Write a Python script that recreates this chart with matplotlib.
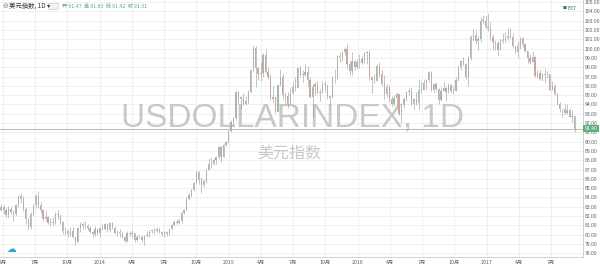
import matplotlib
matplotlib.use("Agg")
import matplotlib.pyplot as plt
import matplotlib.dates as mdates
import matplotlib.transforms as mtransforms
from matplotlib.patches import Rectangle
import numpy as np
import pandas as pd

# weekly candles (open = previous close)
first_week = "2013-03-25"
first_open = 82.6

close = [
    # 2013
    83.0, 82.6, 82.1, 82.8, 82.4, 82.2, 83.2, 84.2, 83.8, 82.8,
    81.7, 80.8, 82.2, 83.2, 84.2, 83.2, 82.7, 81.7, 81.9, 81.3,
    81.3, 81.4, 82.2, 82.1, 81.4, 80.4, 80.4, 80.1, 80.4, 79.8,
    79.2, 80.7, 81.2, 80.9, 80.9, 80.7, 80.3, 80.1, 80.6, 80.2,
    80.7,
    # 2014
    80.6, 81.2, 80.5, 81.3, 80.7, 80.2, 80.2, 80.2, 79.7, 79.3,
    80.2, 80.1, 80.2, 79.4, 79.8, 79.8, 79.4, 79.9, 80.0, 80.4,
    80.4, 80.4, 80.6, 80.3, 80.1, 80.3, 80.1, 80.6, 81.0, 81.4,
    81.3, 81.5, 82.3, 82.7, 83.8, 84.3, 84.8, 85.6, 86.7, 85.9,
    85.3, 85.8, 87.0, 87.6, 87.6, 88.0, 88.4, 89.4, 88.3, 89.6,
    90.0, 91.1,
    # 2015
    92.1, 92.5, 95.3, 94.6, 94.8, 94.1, 94.4, 95.3, 97.7, 100.1,
    97.9, 97.3, 97.4, 99.3, 97.5, 96.9, 94.6, 94.8, 93.2, 96.1,
    96.9, 95.0, 94.9, 94.1, 95.2, 95.9, 95.8, 97.9, 97.2, 97.2,
    97.5, 96.6, 94.8, 95.9, 96.2, 95.3, 95.2, 96.1, 96.1, 94.9,
    94.7, 96.9, 96.9, 99.2, 99.1, 99.6, 100.0, 98.3, 97.6, 98.7,
    98.0, 98.6,
    # 2016
    98.5, 98.9, 99.5, 99.6, 97.0, 96.6, 96.5, 98.1, 97.3, 96.2,
    95.1, 95.9, 94.6, 94.1, 94.7, 95.1, 93.0, 93.9, 94.6, 95.3,
    95.5, 94.0, 94.6, 94.2, 95.6, 95.6, 96.3, 96.6, 97.5, 95.6,
    96.2, 95.7, 94.5, 95.5, 95.8, 95.3, 96.1, 95.4, 95.5, 96.6,
    98.0, 98.7, 98.4, 97.0, 99.0, 101.2, 101.5, 100.8, 101.0, 103.0,
    103.0, 102.3,
    # 2017
    102.2, 101.2, 100.7, 100.6, 99.9, 100.8, 100.9, 101.1, 101.4, 101.3,
    100.3, 99.6, 100.3, 101.1, 100.5, 99.8, 99.0, 98.6, 99.1, 97.1,
    97.4, 96.7, 97.3, 97.2, 97.3, 95.6, 96.0, 95.1, 94.0, 93.5,
    93.5, 93.1, 93.4, 92.7, 92.8, 91.4,
]

high = [
    # 2013
    83.3, 83.2, 82.9, 83.1, 83.0, 82.6, 83.3, 84.3, 84.5, 84.2,
    83.0, 81.8, 82.4, 83.3, 84.4, 84.7, 83.5, 82.8, 82.6, 82.0,
    81.8, 81.9, 82.4, 82.6, 82.1, 81.5, 80.8, 80.6, 80.8, 80.8,
    79.8, 80.8, 81.4, 81.4, 81.5, 81.2, 80.9, 80.4, 80.9, 80.6,
    80.8,
    # 2014
    81.1, 81.3, 81.3, 81.4, 81.4, 80.9, 80.5, 80.6, 80.3, 79.9,
    80.4, 80.4, 80.5, 80.2, 80.0, 80.0, 80.0, 80.0, 80.4, 80.5,
    80.6, 80.7, 80.8, 80.7, 80.4, 80.4, 80.4, 80.7, 81.1, 81.6,
    81.7, 81.7, 82.4, 82.8, 84.0, 84.5, 84.9, 85.7, 86.8, 86.8,
    86.2, 86.0, 87.1, 88.2, 88.3, 88.2, 88.5, 89.6, 89.5, 89.7,
    90.1, 91.3,
    # 2015
    92.3, 92.7, 95.5, 95.4, 94.9, 95.2, 94.9, 95.6, 97.8, 100.4,
    100.3, 98.0, 98.6, 99.5, 100.0, 98.0, 97.3, 96.0, 94.8, 96.2,
    97.8, 97.4, 95.3, 95.3, 95.8, 96.4, 96.9, 98.0, 98.1, 97.7,
    98.4, 98.1, 96.9, 96.2, 96.4, 96.5, 95.7, 96.5, 96.5, 96.0,
    95.0, 97.1, 97.8, 99.3, 99.6, 99.8, 100.2, 100.5, 98.7, 99.6,
    98.8, 98.9,
    # 2016
    99.4, 99.2, 99.6, 99.8, 99.9, 97.1, 97.3, 98.3, 98.6, 97.7,
    97.2, 96.2, 96.1, 94.9, 95.0, 95.3, 95.0, 94.2, 94.8, 95.5,
    95.8, 95.9, 94.7, 95.3, 96.7, 96.5, 96.7, 96.7, 97.6, 97.6,
    96.3, 96.4, 95.8, 95.9, 96.4, 95.9, 96.3, 96.2, 96.0, 97.0,
    98.1, 98.8, 99.1, 98.5, 99.2, 101.5, 102.1, 102.0, 101.4, 103.4,
    103.6, 103.5,
    # 2017
    103.8, 102.9, 101.6, 100.9, 100.8, 101.0, 101.7, 101.8, 102.2, 102.2,
    101.7, 100.3, 100.8, 101.3, 101.2, 100.6, 99.6, 99.4, 99.7, 99.2,
    97.7, 97.7, 97.4, 97.9, 97.6, 97.3, 96.5, 96.2, 95.2, 94.3,
    93.6, 94.0, 94.0, 93.6, 93.4, 92.6,
]

low = [
    # 2013
    82.5, 82.2, 81.9, 81.8, 82.2, 81.5, 82.0, 83.0, 83.4, 82.5,
    81.2, 80.5, 80.6, 82.1, 82.9, 82.9, 82.3, 81.5, 81.5, 81.1,
    80.9, 81.0, 81.2, 81.7, 81.2, 80.1, 80.0, 79.8, 79.9, 79.6,
    78.9, 79.2, 80.3, 80.6, 80.6, 80.5, 80.2, 79.8, 79.9, 80.0,
    79.8,
    # 2014
    80.5, 80.5, 80.3, 80.3, 80.6, 80.1, 79.9, 79.8, 79.6, 79.2,
    79.2, 79.9, 79.8, 79.2, 79.3, 79.6, 79.2, 78.9, 79.7, 79.8,
    80.2, 80.1, 80.3, 80.2, 79.9, 79.8, 79.9, 80.0, 80.5, 80.9,
    81.2, 81.2, 81.3, 82.2, 82.6, 83.7, 84.1, 84.7, 85.6, 85.4,
    84.5, 85.1, 85.6, 86.9, 87.2, 87.5, 87.6, 88.1, 87.8, 88.3,
    89.5, 89.9,
    # 2015
    91.0, 91.7, 92.3, 94.1, 93.5, 93.9, 93.9, 94.1, 95.2, 97.5,
    95.9, 96.6, 96.5, 97.0, 97.4, 96.7, 94.5, 94.3, 93.1, 93.4,
    96.0, 94.6, 94.2, 93.6, 94.0, 95.1, 95.4, 95.9, 96.9, 96.4,
    97.1, 96.0, 94.7, 92.6, 95.0, 95.1, 94.4, 95.3, 95.5, 94.6,
    93.8, 94.9, 96.3, 96.7, 98.6, 98.7, 99.3, 97.8, 97.2, 97.2,
    97.7, 97.8,
    # 2016
    97.9, 98.3, 98.5, 98.4, 96.6, 95.2, 96.3, 96.6, 97.0, 96.0,
    94.6, 94.8, 94.3, 93.8, 93.8, 93.8, 92.9, 92.0, 93.6, 94.4,
    95.0, 93.9, 93.4, 93.9, 93.5, 95.2, 95.6, 95.7, 96.4, 95.4,
    95.2, 95.5, 94.1, 94.4, 95.4, 94.4, 95.2, 95.2, 95.1, 95.6,
    96.5, 97.7, 98.2, 96.7, 96.0, 98.8, 100.8, 100.5, 99.9, 100.7,
    102.7, 102.1,
    # 2017
    101.9, 100.9, 99.9, 99.9, 99.2, 99.9, 100.6, 100.7, 100.9, 101.1,
    100.1, 99.5, 99.0, 100.0, 100.2, 99.6, 98.5, 98.4, 98.6, 96.9,
    96.8, 96.6, 96.5, 96.3, 96.8, 95.5, 95.6, 95.0, 93.9, 93.2,
    92.6, 93.0, 93.0, 92.6, 92.1, 91.0,
]

x_tick_dates = [
    "2013-04-01", "2013-07-01", "2013-10-01", "2014-01-01",
    "2014-04-01", "2014-07-01", "2014-10-01", "2015-01-01",
    "2015-04-01", "2015-07-01", "2015-10-01", "2016-01-01",
    "2016-04-01", "2016-07-01", "2016-10-01", "2017-01-01",
    "2017-04-01", "2017-07-01",
]
x_tick_labels = [
    "4月", "7月", "10月", "2014", "4月", "7月", "10月", "2015",
    "4月", "7月", "10月", "2016", "4月", "7月", "10月", "2017",
    "4月", "7月",
]
y_ticks = list(range(78, 106))

plt.rcParams["font.family"] = ["Noto Sans CJK SC", "DejaVu Sans"]

up_color = "#a3b9aa"
down_color = "#cba7a2"
wick_color = "#959595"
grid_color = "#eeeeee"
label_color = "#606060"

close = np.array(close)
high = np.array(high)
low = np.array(low)
opens = np.concatenate([[first_open], close[:-1]])

dates = pd.date_range(first_week, periods=len(close), freq="W-MON") + pd.Timedelta(days=2)
x = mdates.date2num(dates.to_pydatetime())

fig = plt.figure(figsize=(6, 2.68), dpi=100)
ax = fig.add_axes([0, 11 / 268, 583 / 600, 257 / 268])

# grid
for d in x_tick_dates:
    ax.axvline(mdates.datestr2num(d), color=grid_color, lw=0.6, zorder=0)
for v in y_ticks:
    ax.axhline(v, color=grid_color, lw=0.6, zorder=0)

# watermark
ax.text(0.502, 0.541, "USDOLLARINDEX, 1D", transform=ax.transAxes,
        ha="center", va="center", fontsize=24, color="#c8c8c8",
        family=["Liberation Sans", "DejaVu Sans"], zorder=1)
ax.text(0.497, 0.405, "美元指数", transform=ax.transAxes,
        ha="center", va="center", fontsize=11.5, color="#c8c8c8", zorder=1)

# candles
ups = close >= opens
colors = np.where(ups, up_color, down_color)
ax.vlines(x, np.minimum(low, np.minimum(opens, close)),
          np.maximum(high, np.maximum(opens, close)),
          color=wick_color, lw=0.4, zorder=2)
body_lo = np.minimum(opens, close)
body_h = np.maximum(np.abs(close - opens), 0.05)
ax.bar(x, body_h, bottom=body_lo, width=3.6, color=colors,
       edgecolor="none", zorder=3)

# last price line and label
last = close[-1]
ax.axhline(last, color="#b0b0b0", lw=0.6, zorder=1)
trans = mtransforms.blended_transform_factory(ax.transAxes, ax.transData)
ax.text(1.003, last, "%.2f" % last, transform=trans, ha="left", va="center",
        fontsize=3.6, color="white", clip_on=False, zorder=5,
        family=["Liberation Sans", "DejaVu Sans"],
        bbox=dict(boxstyle="square,pad=0.25", fc="#58b07a", ec="none"))

ax.set_xlim(mdates.datestr2num("2013-03-24"), mdates.datestr2num("2017-09-30"))
ax.set_ylim(77.6, 105.23)

ax.set_xticks([mdates.datestr2num(d) for d in x_tick_dates])
ax.set_xticklabels(x_tick_labels)
ax.set_yticks(y_ticks)
ax.set_yticklabels(["%.2f" % v for v in y_ticks])
ax.yaxis.tick_right()
ax.tick_params(axis="both", length=0, labelsize=3.8, labelcolor=label_color)
ax.tick_params(axis="y", pad=1.2, labelsize=3.6)
ax.tick_params(axis="x", pad=2.5)
for lab in ax.get_yticklabels():
    lab.set_family(["Liberation Sans", "DejaVu Sans"])
for lab in ax.get_xticklabels():
    lab.set_family(["Noto Sans CJK SC", "DejaVu Sans"])

for side in ["top", "left"]:
    ax.spines[side].set_visible(False)
for side in ["right", "bottom"]:
    ax.spines[side].set_color("#c9c9c9")
    ax.spines[side].set_linewidth(0.6)

# header bar
fig.text(2 / 600, 1 - 6 / 268, "⊖", fontsize=5, color="#888888", va="center",
         family=["DejaVu Sans"])
fig.text(9 / 600, 1 - 6 / 268, "美元指数, 1D ▾", fontsize=4.6, color="#333333", va="center")
fig.patches.append(Rectangle((48 / 600, 1 - 9 / 268), 10 / 600, 6 / 268,
                             transform=fig.transFigure, fc="#f4f4f4", ec="#cccccc", lw=0.4))
fig.text(62 / 600, 1 - 6 / 268, "开 91.47  高 91.63  低 91.42  收 91.51",
         fontsize=3.8, color="#5aa874", va="center")
fig.text(563 / 600, 1 - 8 / 268, "■", fontsize=3, color="#2e7d5b", va="center",
         family=["DejaVu Sans"])
fig.text(567 / 600, 1 - 8 / 268, "EXT", fontsize=3.8, color="#666666", va="center")
fig.text(6 / 600, 1 - 249 / 268, "☁", fontsize=7, color="#3d9ad1", va="center",
         family=["DejaVu Sans"])

fig.savefig("out.png", dpi=100, facecolor="white")
